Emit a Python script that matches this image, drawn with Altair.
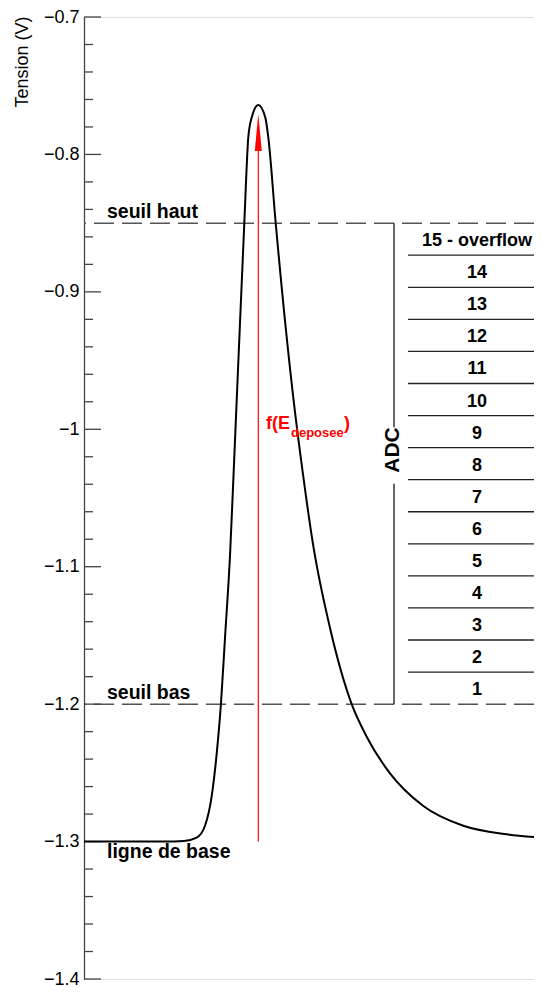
import altair as alt
import pandas as pd

# ---- data ----
curve_t = [0, 80, 100, 112.7, 121, 127.7, 132.7, 137, 141, 146, 150.3, 160.3, 164.3, 167.7,
           174.3, 181.3, 184.3, 191.7, 209.3, 219.3, 229.3, 246, 267.7, 282.7, 306, 339.3,
           379.3, 422.7, 458]
curve_v = [-1.3, -1.3, -1.2995, -1.2971, -1.2885, -1.2669, -1.236, -1.1993, -1.1518, -1.0921,
           -1.0201, -0.8499, -0.7876, -0.7732, -0.764, -0.7732, -0.7876, -0.8499, -0.977,
           -1.0345, -1.0849, -1.1446, -1.2, -1.2237, -1.2504, -1.2741, -1.2885, -1.2947, -1.2971]

major_ticks = [-1.4, -1.3, -1.2, -1.1, -1.0, -0.9, -0.8, -0.7]
minor_ticks = [round(-1.4 + 0.02 * i, 2) for i in range(36) if i % 5 != 0]

seuil_haut = -0.85
seuil_bas = -1.2
ligne_base = -1.3
peak_t = 174.3

adc_labels = ["1", "2", "3", "4", "5", "6", "7", "8", "9", "10", "11", "12", "13", "14",
              "15 - overflow"]

n_adc = len(adc_labels)
step = (seuil_haut - seuil_bas) / n_adc
adc_centers = [seuil_bas + (i + 0.5) * step for i in range(n_adc)]
adc_bounds = [seuil_bas + i * step for i in range(1, n_adc)]

FONT = "Liberation Sans"
T_MAX = 450

xscale = alt.Scale(domain=[0, T_MAX], nice=False, zero=False)
yscale = alt.Scale(domain=[-1.4, -0.7], nice=False, zero=False)
yaxis = alt.Axis(
    values=major_ticks, format=".1~f", ticks=False, grid=False,
    domainColor="#444", domainWidth=1.3, labelFontSize=18, labelFont=FONT,
    labelColor="black", labelPadding=5,
    title="Tension (V)", titleFont=FONT, titleFontSize=18, titleFontWeight="normal",
    titleColor="black", titleAngle=270, titleAlign="right", titleBaseline="middle",
    titleX=-62, titleY=-1,
)


def Y(field):
    return alt.Y(field, type="quantitative", scale=yscale, axis=yaxis)


def X(field):
    return alt.X(field, type="quantitative", scale=xscale, axis=None)


thr_df = pd.DataFrame({"v": [seuil_haut, seuil_bas]})
dashed = alt.Chart(thr_df).mark_rule(strokeDash=[20, 8], color="#555", strokeWidth=1.5).encode(y=Y("v"))

major = alt.Chart(pd.DataFrame({"v": major_ticks})).mark_rule(color="#444", strokeWidth=1.3).encode(
    y=Y("v"), x=alt.value(0), x2=alt.value(17))
minor = alt.Chart(pd.DataFrame({"v": minor_ticks})).mark_rule(color="#444", strokeWidth=1.3).encode(
    y=Y("v"), x=alt.value(0), x2=alt.value(9))

curve_df = pd.DataFrame({"t": curve_t, "v": curve_v})
curve = alt.Chart(curve_df).mark_line(color="black", strokeWidth=2, interpolate="monotone",
                                      clip=True).encode(
    x=X("t"), y=Y("v"), order="t:Q")

red_df = pd.DataFrame({"t": [peak_t], "v": [ligne_base], "v2": [-0.79]})
red_line = alt.Chart(red_df).mark_rule(color="red", strokeWidth=1.2).encode(
    x=X("t"), y=Y("v"), y2="v2")
arrow = alt.Chart(pd.DataFrame({"t": [peak_t], "v": [-0.784]})).mark_point(
    shape="M0,-1L0.19,1L-0.19,1Z", size=1369, filled=True, color="red", opacity=1).encode(
    x=X("t"), y=Y("v"))

adc_line_df = pd.DataFrame({"t": [310, 310], "v": [seuil_haut, -1.0396], "v2": [-0.9986, seuil_bas]})
adc_line = alt.Chart(adc_line_df).mark_rule(color="black", strokeWidth=1.2).encode(
    x=X("t"), y=Y("v"), y2="v2")
adc_text = alt.Chart(pd.DataFrame({"t": [309], "v": [-1.0151], "txt": ["ADC"]})).mark_text(
    angle=270, font=FONT, fontWeight="bold", fontSize=21, color="black", baseline="middle").encode(
    x=X("t"), y=Y("v"), text="txt")

rows_df = pd.DataFrame({"t": [324] * len(adc_bounds), "t2": [T_MAX] * len(adc_bounds), "v": adc_bounds})
rows = alt.Chart(rows_df).mark_rule(color="#222", strokeWidth=1.3).encode(
    x=X("t"), x2="t2", y=Y("v"))
lab_df = pd.DataFrame({"t": [393] * n_adc, "v": adc_centers, "txt": adc_labels})
labels = alt.Chart(lab_df).mark_text(font=FONT, fontWeight="bold", fontSize=18, color="black",
                                     baseline="middle", dy=2).encode(
    x=X("t"), y=Y("v"), text="txt")

seuil_df = pd.DataFrame({"t": [23, 23], "v": [seuil_haut, seuil_bas], "txt": ["seuil haut", "seuil bas"]})
seuil_txt = alt.Chart(seuil_df).mark_text(font=FONT, fontWeight="bold", fontSize=19.5, color="black",
                                          align="left", baseline="alphabetic", dy=-5).encode(
    x=X("t"), y=Y("v"), text="txt")
base_txt = alt.Chart(pd.DataFrame({"t": [23], "v": [ligne_base], "txt": ["ligne de base"]})).mark_text(
    font=FONT, fontWeight="bold", fontSize=19.5, color="black", align="left", baseline="alphabetic",
    dy=16).encode(x=X("t"), y=Y("v"), text="txt")

f_df = pd.DataFrame({"t": [182, 260], "v": [-1.0, -1.0], "txt": ["f(E", ")"]})
f_txt = alt.Chart(f_df).mark_text(font=FONT, fontWeight="bold", fontSize=18, color="red",
                                  align="left", baseline="alphabetic").encode(
    x=X("t"), y=Y("v"), text="txt")
sub_txt = alt.Chart(pd.DataFrame({"t": [207], "v": [-1.0], "txt": ["deposee"]})).mark_text(
    font=FONT, fontWeight="bold", fontSize=13, color="red", align="left", baseline="alphabetic",
    dy=7.5).encode(x=X("t"), y=Y("v"), text="txt")

chart = alt.layer(
    dashed, major, minor, rows, adc_line, adc_text, labels, red_line, arrow, curve,
    seuil_txt, base_txt, f_txt, sub_txt,
).properties(
    width=T_MAX, height=962,
    autosize=alt.AutoSizeParams(type="none"),
    padding={"left": 76, "top": 9, "right": 0, "bottom": 9},
).configure_view(stroke=None).configure(background="white")

chart.save("out.html", embed_options={"renderer": "svg", "actions": False})
